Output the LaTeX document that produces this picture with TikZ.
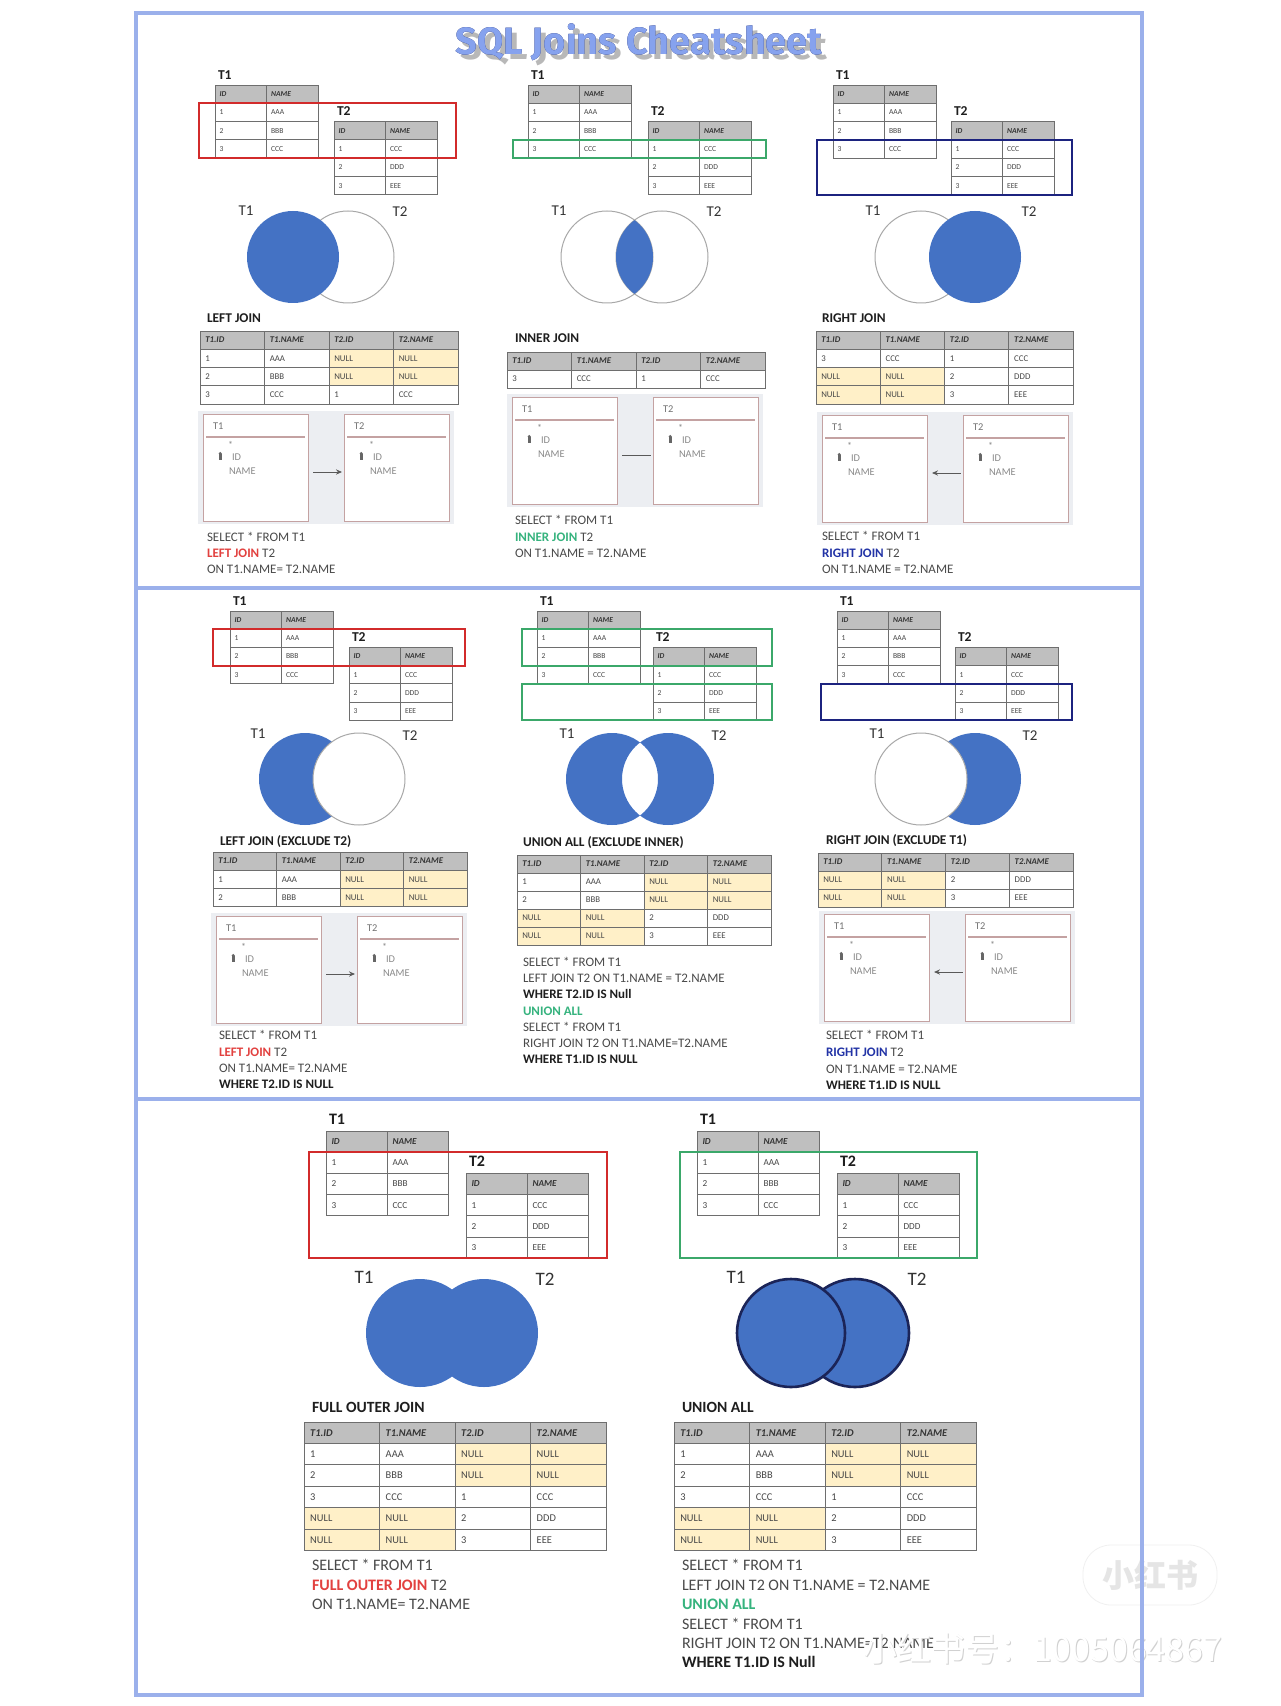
\documentclass[tikz,border=0pt]{standalone}
\usepackage{fontspec}
\usepackage{pdfrender}
\setmainfont{Carlito}
\newfontfamily\titlefont{Fira Sans}
\newfontfamily\cjkfont{Noto Sans CJK SC}
\usetikzlibrary{arrows.meta}
\definecolor{vblue}{HTML}{4472C4}
\definecolor{framec}{HTML}{9BB0EB}
\definecolor{titfill}{HTML}{86A2EE}
\definecolor{titline}{HTML}{1A2566}
\definecolor{titshadow}{HTML}{8A8A8A}
\definecolor{jred}{HTML}{E2413F}
\definecolor{jgreen}{HTML}{36B37E}
\definecolor{jblue}{HTML}{2233A6}
\definecolor{boxred}{HTML}{D22B2B}
\definecolor{boxgreen}{HTML}{3BA86A}
\definecolor{boxblue}{HTML}{1C237F}
\definecolor{hdrgray}{HTML}{BFBFBF}
\definecolor{gridc}{HTML}{6E6E6E}
\definecolor{nullc}{HTML}{FFF0C8}
\definecolor{schbgc}{HTML}{ECEEF2}
\definecolor{schlinec}{HTML}{C4A2A2}
\definecolor{schtext}{HTML}{8A8A8A}
\definecolor{sqlc}{HTML}{4A4A4A}
\definecolor{darkt}{HTML}{1E1E1E}
\definecolor{navyc}{HTML}{1B2458}
\definecolor{vgray}{HTML}{A8A8A8}
\def\mynullstr{NULL}
\tikzset{
  txt/.style={anchor=base west, inner sep=0pt, outer sep=0pt},
  ctxt/.style={anchor=base, inner sep=0pt, outer sep=0pt},
  gridline/.style={draw=gridc, line width=0.45pt},
  hdrtext/.style={text=darkt!90},
  celltext/.style={text=black!72},
  srclbl/.style={text=darkt},
  jtitle/.style={text=darkt},
  sqltxt/.style={text=sqlc},
  sqlbold/.style={text=darkt},
  vennlbl/.style={text=black!80},
  vopen/.style={draw=vgray, line width=0.5pt},
  hbox/.style={line width=1pt},
  titlestyle/.style={font=\titlefont\bfseries\fontsize{19}{19}\selectfont, inner sep=0pt, outer sep=0pt},
  schbox/.style={draw=schlinec, fill=white, line width=0.5pt, minimum width=52.5pt, minimum height=53.5pt, inner sep=0pt},
  arrline/.style={draw=black!65, line width=0.5pt, shorten <=2pt, shorten >=1pt},
  larrow/.style={-{Stealth[length=3pt,width=2.6pt]}},
  rarrow/.style={{Stealth[length=3pt,width=2.6pt]}-},
  noarrow/.style={},
}
% label: [opts]{name}{x}{y centre}{size pt}{text}
\newcommand\lbl[6][]{\node[txt,font=\fontsize{#5}{#5}\selectfont,#1] (#2) at ({#3},{#4+0.64*#5}) {#6};}
\newcommand\clbl[6][]{\node[ctxt,font=\fontsize{#5}{#5}\selectfont,#1] (#2) at ({#3},{#4+0.64*#5}) {#6};}
% table: prefix, x0, y0, colw, rowh, size, header, rows
\newcommand\dbtable[8]{%
  \foreach \hd [count=\ci] in {#7} {%
    \pgfmathsetmacro\xa{#2+(\ci-1)*#4}%
    \fill[hdrgray] (\xa,#3) rectangle ++(#4,#5);
    \draw[gridline] (\xa,#3) rectangle ++(#4,#5);
    \lbl[hdrtext,font=\fontsize{#6}{#6}\selectfont\bfseries\itshape]{#1-h\ci}{\xa+1.2*#6}{#3+#5/2}{#6}{\hd}
  }%
  \foreach \row [count=\ri] in {#8} {%
    \foreach \cell [count=\ci] in \row {%
      \pgfmathsetmacro\xa{#2+(\ci-1)*#4}%
      \pgfmathsetmacro\ya{#3+\ri*#5}%
      \edef\tmp{\cell}%
      \ifx\tmp\mynullstr \fill[nullc] (\xa,\ya) rectangle ++(#4,#5);\fi
      \draw[gridline] (\xa,\ya) rectangle ++(#4,#5);
      \lbl[celltext]{#1-r\ri-\ci}{\xa+1.2*#6}{\ya+#5/2}{#6}{\cell}
    }%
  }%
}
% source tables: prefix, x0, y0, colw, rowh, dx, cellsize, labelsize
\newcommand\srcpair[8]{%
  \dbtable{#1-t1}{#2}{#3}{#4}{#5}{#7}{ID,NAME}{{1,AAA},{2,BBB},{3,CCC}}
  \dbtable{#1-t2}{#2+#6}{#3+2*#5}{#4}{#5}{#7}{ID,NAME}{{1,CCC},{2,DDD},{3,EEE}}
  \lbl[srclbl]{#1-l1}{#2+3}{#3-1.5*#8}{#8}{\bfseries T1}
  \lbl[srclbl]{#1-l2}{#2+#6+3}{#3+2*#5-1.5*#8}{#8}{\bfseries T2}
}
% schema: prefix, x, y, arrow style
\newcommand\schema[4]{%
  \fill[schbgc] ({#2-5},{#3-3.5}) rectangle ({#2+251},{#3+110});
  \foreach \k/\t [count=\i] in {0/T1,141/T2} {%
    \pgfmathsetmacro\bx{#2+\k}%
    \node[schbox, anchor=north west] (#1-b\i) at (\bx,#3) {};
    \draw[schlinec, line width=0.6pt] ({\bx+3},{#3+23}) -- ({\bx+102},{#3+23});
    \lbl[text=black!55]{#1-b\i-t}{\bx+10}{#3+12}{5.2}{\t}
    \lbl[text=schtext]{#1-b\i-s}{\bx+25}{#3+31}{5}{*}
    \fill[black!60] ({\bx+16},{#3+39.5}) rectangle ({\bx+18.5},{#3+45.5});
    \fill[black!60] ({\bx+17.25},{#3+39.5}) circle (1.7);
    \lbl[text=schtext]{#1-b\i-id}{\bx+29}{#3+43}{5.2}{ID}
    \lbl[text=schtext]{#1-b\i-nm}{\bx+26}{#3+57}{5.2}{NAME}
  }%
  \draw[arrline,#4] ([yshift=-2pt]#1-b1.east) -- ([yshift=-2pt]#1-b2.west);
}
\begin{document}
\begin{tikzpicture}[x=0.5pt,y=-0.5pt]
\useasboundingbox (0,0) rectangle (1280,1706);
\fill[white] (0,0) rectangle (1280,1706);

% ---------- title ----------
\node[titlestyle, text=titshadow, opacity=0.6] (title-sh) at (644,47)
  {\textpdfrender{TextRenderingMode=FillStroke,LineWidth=5.5,LineJoin=1}{SQL Joins Cheatsheet}};
\node[titlestyle, text=titline] (title-ol) at (639,42)
  {\textpdfrender{TextRenderingMode=FillStroke,LineWidth=4,LineJoin=1}{SQL Joins Cheatsheet}};
\node[titlestyle, text=titfill] (title) at (639,42)
  {\textpdfrender{TextRenderingMode=FillStroke,LineWidth=0.8,LineJoin=1}{SQL Joins Cheatsheet}};

% ================= ROW 1 =================
% ---- P1 LEFT JOIN
\srcpair{p1}{215}{85}{51.5}{18.3}{119}{3.8}{6.8}
\draw[hbox, draw=boxred] (199,103.3) rectangle (456,158.2);
\clbl[vennlbl]{p1-v1}{246}{211}{7.5}{T1}
\clbl[vennlbl]{p1-v2}{400}{212}{7.5}{T2}
\draw[vopen] (348,257) circle (46);
\fill[vblue] (293,257) circle (46);
\lbl[jtitle,font=\fontsize{6.7}{6.7}\selectfont\bfseries]{p1-title}{207}{318}{6.7}{LEFT JOIN}
\dbtable{p1-res}{200}{331}{64.5}{18.3}{4.4}{T1.ID,T1.NAME,T2.ID,T2.NAME}{{1,AAA,NULL,NULL},{2,BBB,NULL,NULL},{3,CCC,1,CCC}}
\schema{p1-sch}{203}{414}{larrow}
\lbl[sqltxt]{p1-s1}{207}{537}{6.5}{SELECT * FROM T1}
\lbl[sqltxt]{p1-s2}{207}{553}{6.5}{\textcolor{jred}{\bfseries LEFT JOIN} T2}
\lbl[sqltxt]{p1-s3}{207}{569}{6.5}{ON T1.NAME= T2.NAME}

% ---- P2 INNER JOIN
\srcpair{p2}{528}{85}{51.5}{18.3}{120}{3.8}{6.8}
\draw[hbox, draw=boxgreen] (513,139.9) rectangle (766,158.2);
\clbl[vennlbl]{p2-v1}{559}{211}{7.5}{T1}
\clbl[vennlbl]{p2-v2}{714}{212}{7.5}{T2}
\draw[vopen] (607,257) circle (46);
\draw[vopen] (662,257) circle (46);
\begin{scope}
  \clip (607,257) circle (46);
  \fill[vblue] (662,257) circle (46);
\end{scope}
\lbl[jtitle,font=\fontsize{6.7}{6.7}\selectfont\bfseries]{p2-title}{515}{338}{6.7}{INNER JOIN}
\dbtable{p2-res}{507}{352}{64.5}{18}{4.4}{T1.ID,T1.NAME,T2.ID,T2.NAME}{{3,CCC,1,CCC}}
\schema{p2-sch}{512}{397}{noarrow}
\lbl[sqltxt]{p2-s1}{515}{520}{6.5}{SELECT * FROM T1}
\lbl[sqltxt]{p2-s2}{515}{537}{6.5}{\textcolor{jgreen}{\bfseries INNER JOIN} T2}
\lbl[sqltxt]{p2-s3}{515}{553}{6.5}{ON T1.NAME = T2.NAME}

% ---- P3 RIGHT JOIN
\srcpair{p3}{833}{85}{51.5}{18.3}{118}{3.8}{6.8}
\draw[hbox, draw=boxblue] (817,139.9) rectangle (1072,194.8);
\clbl[vennlbl]{p3-v1}{873}{211}{7.5}{T1}
\clbl[vennlbl]{p3-v2}{1029}{212}{7.5}{T2}
\draw[vopen] (921,257) circle (46);
\fill[vblue] (975,257) circle (46);
\lbl[jtitle,font=\fontsize{6.7}{6.7}\selectfont\bfseries]{p3-title}{822}{318}{6.7}{RIGHT JOIN}
\dbtable{p3-res}{816}{331}{64.3}{18.3}{4.4}{T1.ID,T1.NAME,T2.ID,T2.NAME}{{3,CCC,1,CCC},{NULL,NULL,2,DDD},{NULL,NULL,3,EEE}}
\schema{p3-sch}{822}{415}{rarrow}
\lbl[sqltxt]{p3-s1}{822}{536}{6.5}{SELECT * FROM T1}
\lbl[sqltxt]{p3-s2}{822}{553}{6.5}{\textcolor{jblue}{\bfseries RIGHT JOIN} T2}
\lbl[sqltxt]{p3-s3}{822}{569}{6.5}{ON T1.NAME = T2.NAME}

% ================= ROW 2 =================
% ---- P4 LEFT JOIN EXCLUDE T2
\srcpair{p4}{230}{611}{51.5}{18.2}{119}{3.8}{6.8}
\draw[hbox, draw=boxred] (213,629.2) rectangle (465,665.6);
\clbl[vennlbl]{p4-v1}{258}{734}{7.5}{T1}
\clbl[vennlbl]{p4-v2}{410}{736}{7.5}{T2}
\fill[vblue] (305,779) circle (46);
\filldraw[fill=white, draw=vgray, line width=0.5pt] (359,779) circle (46);
\lbl[jtitle,font=\fontsize{6.7}{6.7}\selectfont\bfseries]{p4-title}{220}{841}{6.7}{LEFT JOIN (EXCLUDE T2)}
\dbtable{p4-res}{213}{852}{63.5}{18.3}{4.4}{T1.ID,T1.NAME,T2.ID,T2.NAME}{{1,AAA,NULL,NULL},{2,BBB,NULL,NULL}}
\schema{p4-sch}{216}{916}{larrow}
\lbl[sqltxt]{p4-s1}{219}{1035}{6.5}{SELECT * FROM T1}
\lbl[sqltxt]{p4-s2}{219}{1052}{6.5}{\textcolor{jred}{\bfseries LEFT JOIN} T2}
\lbl[sqltxt]{p4-s3}{219}{1068}{6.5}{ON T1.NAME= T2.NAME}
\lbl[sqlbold,font=\fontsize{6.5}{6.5}\selectfont\bfseries]{p4-s4}{219}{1084}{6.5}{WHERE T2.ID IS NULL}

% ---- P5 UNION ALL EXCLUDE INNER
\srcpair{p5}{537}{611}{51.5}{18.2}{116}{3.8}{6.8}
\draw[hbox, draw=boxgreen] (522,629.2) rectangle (772,665.6);
\draw[hbox, draw=boxgreen] (522,683.8) rectangle (772,720.2);
\clbl[vennlbl]{p5-v1}{567}{734}{7.5}{T1}
\clbl[vennlbl]{p5-v2}{719}{736}{7.5}{T2}
\fill[vblue, even odd rule] (612,779) circle (46) (668,779) circle (46);
\lbl[jtitle,font=\fontsize{6.7}{6.7}\selectfont\bfseries]{p5-title}{523}{842}{6.7}{UNION ALL (EXCLUDE INNER)}
\dbtable{p5-res}{517}{855}{63.5}{18}{4.4}{T1.ID,T1.NAME,T2.ID,T2.NAME}{{1,AAA,NULL,NULL},{2,BBB,NULL,NULL},{NULL,NULL,2,DDD},{NULL,NULL,3,EEE}}
\lbl[sqltxt]{p5-s1}{523}{962}{6.5}{SELECT * FROM T1}
\lbl[sqltxt]{p5-s2}{523}{978}{6.5}{LEFT JOIN T2 ON T1.NAME = T2.NAME}
\lbl[sqlbold,font=\fontsize{6.5}{6.5}\selectfont\bfseries]{p5-s3}{523}{994}{6.5}{WHERE T2.ID IS Null}
\lbl[text=jgreen,font=\fontsize{6.5}{6.5}\selectfont\bfseries]{p5-s4}{523}{1011}{6.5}{UNION ALL}
\lbl[sqltxt]{p5-s5}{523}{1027}{6.5}{SELECT * FROM T1}
\lbl[sqltxt]{p5-s6}{523}{1043}{6.5}{RIGHT JOIN T2 ON T1.NAME=T2.NAME}
\lbl[sqlbold,font=\fontsize{6.5}{6.5}\selectfont\bfseries]{p5-s7}{523}{1059}{6.5}{WHERE T1.ID IS NULL}

% ---- P6 RIGHT JOIN EXCLUDE T1
\srcpair{p6}{837}{611}{51.5}{18.2}{118}{3.8}{6.8}
\draw[hbox, draw=boxblue] (821,683.8) rectangle (1072,720.2);
\clbl[vennlbl]{p6-v1}{877}{734}{7.5}{T1}
\clbl[vennlbl]{p6-v2}{1030}{736}{7.5}{T2}
\fill[vblue] (975,779) circle (46);
\filldraw[fill=white, draw=vgray, line width=0.5pt] (921,779) circle (46);
\lbl[jtitle,font=\fontsize{6.7}{6.7}\selectfont\bfseries]{p6-title}{826}{840}{6.7}{RIGHT JOIN (EXCLUDE T1)}
\dbtable{p6-res}{818}{853}{63.8}{18}{4.4}{T1.ID,T1.NAME,T2.ID,T2.NAME}{{NULL,NULL,2,DDD},{NULL,NULL,3,EEE}}
\schema{p6-sch}{824}{914}{rarrow}
\lbl[sqltxt]{p6-s1}{826}{1035}{6.5}{SELECT * FROM T1}
\lbl[sqltxt]{p6-s2}{826}{1052}{6.5}{\textcolor{jblue}{\bfseries RIGHT JOIN} T2}
\lbl[sqltxt]{p6-s3}{826}{1069}{6.5}{ON T1.NAME = T2.NAME}
\lbl[sqlbold,font=\fontsize{6.5}{6.5}\selectfont\bfseries]{p6-s4}{826}{1085}{6.5}{WHERE T1.ID IS NULL}

% ================= ROW 3 =================
% ---- P7 FULL OUTER JOIN
\srcpair{p7}{326}{1131}{61}{21.2}{140}{4.6}{8}
\draw[hbox, draw=boxred] (309,1152.2) rectangle (607,1258);
\clbl[vennlbl]{p7-v1}{364}{1277}{9.5}{T1}
\clbl[vennlbl]{p7-v2}{545}{1279}{9.5}{T2}
\fill[vblue] (420,1333) circle (54) (484,1333) circle (54);
\lbl[jtitle,font=\fontsize{7.8}{7.8}\selectfont\bfseries]{p7-title}{312}{1407}{7.8}{FULL OUTER JOIN}
\dbtable{p7-res}{304}{1422}{75.5}{21.4}{5.2}{T1.ID,T1.NAME,T2.ID,T2.NAME}{{1,AAA,NULL,NULL},{2,BBB,NULL,NULL},{3,CCC,1,CCC},{NULL,NULL,2,DDD},{NULL,NULL,3,EEE}}
\lbl[sqltxt]{p7-s1}{312}{1565}{8}{SELECT * FROM T1}
\lbl[sqltxt]{p7-s2}{312}{1585}{8}{\textcolor{jred}{\bfseries FULL OUTER JOIN} T2}
\lbl[sqltxt]{p7-s3}{312}{1604}{8}{ON T1.NAME= T2.NAME}

% ---- P8 UNION ALL
\srcpair{p8}{697}{1131}{61}{21.2}{140}{4.6}{8}
\draw[hbox, draw=boxgreen] (680,1152.2) rectangle (977,1258);
\clbl[vennlbl]{p8-v1}{736}{1277}{9.5}{T1}
\clbl[vennlbl]{p8-v2}{917}{1279}{9.5}{T2}
\filldraw[fill=vblue, draw=navyc, line width=1.3pt] (855,1333) circle (54);
\filldraw[fill=vblue, draw=navyc, line width=1.3pt] (791,1333) circle (54);
\lbl[jtitle,font=\fontsize{7.8}{7.8}\selectfont\bfseries]{p8-title}{682}{1407}{7.8}{UNION ALL}
\dbtable{p8-res}{674}{1422}{75.5}{21.4}{5.2}{T1.ID,T1.NAME,T2.ID,T2.NAME}{{1,AAA,NULL,NULL},{2,BBB,NULL,NULL},{3,CCC,1,CCC},{NULL,NULL,2,DDD},{NULL,NULL,3,EEE}}
\lbl[sqltxt]{p8-s1}{682}{1565}{8}{SELECT * FROM T1}
\lbl[sqltxt]{p8-s2}{682}{1585}{8}{LEFT JOIN T2 ON T1.NAME = T2.NAME}
\lbl[text=jgreen,font=\fontsize{8}{8}\selectfont\bfseries]{p8-s3}{682}{1604}{8}{UNION ALL}
\lbl[sqltxt]{p8-s4}{682}{1624}{8}{SELECT * FROM T1}
\lbl[sqltxt]{p8-s5}{682}{1643}{8}{RIGHT JOIN T2 ON T1.NAME=T2.NAME}
\lbl[sqlbold,font=\fontsize{8}{8}\selectfont\bfseries]{p8-s6}{682}{1662}{8}{WHERE T1.ID IS Null}

% ---------- watermark ----------
\node[draw=black!6, fill=white, fill opacity=0.75, draw opacity=1, rounded corners=14pt, minimum width=67pt, minimum height=30pt, inner sep=0pt] (wmlogo) at (1150,1575) {};
\node[font=\cjkfont\bfseries\fontsize{16}{16}\selectfont, text=black!10] (wmlogotxt) at (1150,1575) {小红书};
\node[font=\cjkfont\fontsize{17}{17}\selectfont, text=black!18, inner sep=0pt] (wm-sh) at (1044,1650)
  {\textpdfrender{TextRenderingMode=FillStroke,LineWidth=0.9,LineJoin=1}{小红书号：1005064867}};
\node[font=\cjkfont\fontsize{17}{17}\selectfont, text=white, inner sep=0pt] (wm) at (1043,1649) {小红书号：1005064867};

% ---------- frame ----------
\draw[framec, line width=2pt] (136,13) rectangle (1142,1695);
\draw[framec, line width=2pt] (136,588) -- (1142,588);
\draw[framec, line width=2pt] (136,1099) -- (1142,1099);
\end{tikzpicture}
\end{document}
